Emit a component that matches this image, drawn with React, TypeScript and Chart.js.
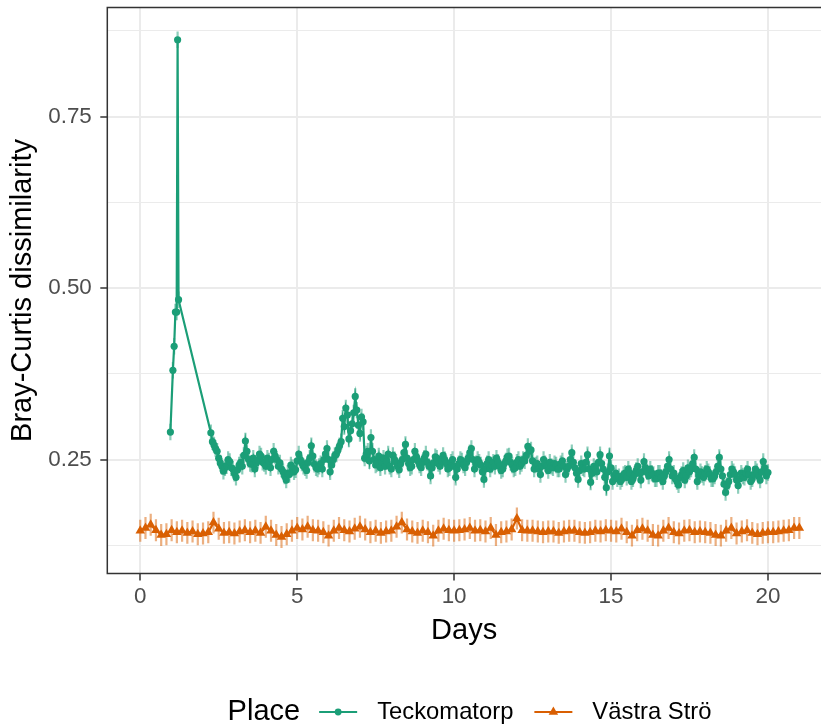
import React, { useEffect, useRef } from 'react';
import { Chart, registerables } from 'chart.js';

Chart.register(...registerables);

const FONT = "'Liberation Sans', Arial, Helvetica, sans-serif";

// ---- data ----
const seriesNames = ['Teckomatorp', 'Västra Strö'];
const seriesColors = ['#1B9E77', '#D95F02'];
const errorColors = ['rgba(27,158,119,0.5)', 'rgba(217,95,2,0.5)'];

const teckoEarlyDays = [0.96, 1.04, 1.08, 1.12, 1.16, 1.19, 1.22];
const teckoEarlyValues = [0.29, 0.38, 0.415, 0.465, 0.465, 0.862, 0.483];
const teckoStartDay = 2.25;
const teckoStepDays = 0.05;
const teckoValues = [
  0.289, 0.276, 0.271, 0.266, 0.262, 0.252, 0.245, 0.240, 0.233, 0.238, 0.241, 0.250, 0.247, 0.238, 0.236, 0.230, 0.224, 0.235, 0.242, 0.246,
  0.240, 0.256, 0.277, 0.262, 0.250, 0.244, 0.243, 0.252, 0.236, 0.245, 0.249, 0.258, 0.255, 0.246, 0.244, 0.240, 0.252, 0.248, 0.238, 0.250,
  0.262, 0.255, 0.250, 0.240, 0.245, 0.236, 0.232, 0.226, 0.220, 0.230, 0.228, 0.242, 0.238, 0.232, 0.235, 0.248, 0.258, 0.250, 0.245, 0.240,
  0.238, 0.234, 0.246, 0.252, 0.270, 0.255, 0.243, 0.238, 0.236, 0.240, 0.244, 0.236, 0.250, 0.258, 0.266, 0.250, 0.232, 0.242, 0.250, 0.256,
  0.258, 0.264, 0.270, 0.276, 0.310, 0.298, 0.325, 0.315, 0.280, 0.292, 0.302, 0.318, 0.342, 0.322, 0.300, 0.288, 0.312, 0.305, 0.252, 0.258,
  0.262, 0.248, 0.282, 0.262, 0.250, 0.242, 0.244, 0.255, 0.238, 0.246, 0.252, 0.240, 0.247, 0.258, 0.240, 0.236, 0.256, 0.250, 0.246, 0.240,
  0.235, 0.244, 0.250, 0.260, 0.272, 0.252, 0.244, 0.238, 0.240, 0.250, 0.262, 0.254, 0.248, 0.242, 0.238, 0.246, 0.252, 0.258, 0.246, 0.240,
  0.226, 0.238, 0.245, 0.254, 0.252, 0.244, 0.240, 0.248, 0.256, 0.250, 0.244, 0.236, 0.238, 0.246, 0.250, 0.240, 0.224, 0.236, 0.244, 0.250,
  0.248, 0.242, 0.238, 0.246, 0.252, 0.260, 0.266, 0.250, 0.236, 0.244, 0.250, 0.246, 0.242, 0.232, 0.221, 0.236, 0.244, 0.250, 0.236, 0.242,
  0.246, 0.240, 0.252, 0.246, 0.240, 0.234, 0.236, 0.244, 0.248, 0.254, 0.255, 0.246, 0.242, 0.236, 0.238, 0.246, 0.250, 0.240, 0.244, 0.250,
  0.248, 0.256, 0.269, 0.262, 0.264, 0.248, 0.236, 0.242, 0.244, 0.236, 0.228, 0.240, 0.250, 0.244, 0.240, 0.234, 0.246, 0.240, 0.238, 0.244,
  0.242, 0.236, 0.236, 0.244, 0.248, 0.240, 0.228, 0.236, 0.240, 0.250, 0.260, 0.246, 0.238, 0.230, 0.221, 0.234, 0.244, 0.238, 0.236, 0.246,
  0.257, 0.236, 0.217, 0.230, 0.240, 0.236, 0.232, 0.246, 0.257, 0.244, 0.236, 0.224, 0.209, 0.232, 0.255, 0.238, 0.218, 0.226, 0.230, 0.222,
  0.225, 0.218, 0.222, 0.228, 0.230, 0.224, 0.236, 0.230, 0.218, 0.222, 0.228, 0.234, 0.240, 0.230, 0.220, 0.232, 0.247, 0.238, 0.232, 0.226,
  0.236, 0.230, 0.228, 0.222, 0.222, 0.230, 0.230, 0.224, 0.218, 0.226, 0.232, 0.240, 0.250, 0.236, 0.226, 0.230, 0.222, 0.218, 0.213, 0.224,
  0.228, 0.234, 0.220, 0.226, 0.238, 0.232, 0.236, 0.244, 0.253, 0.236, 0.218, 0.226, 0.232, 0.228, 0.224, 0.230, 0.236, 0.232, 0.228, 0.222,
  0.222, 0.226, 0.232, 0.240, 0.253, 0.236, 0.226, 0.214, 0.202, 0.212, 0.218, 0.228, 0.236, 0.232, 0.228, 0.220, 0.212, 0.222, 0.230, 0.226,
  0.224, 0.230, 0.236, 0.228, 0.218, 0.222, 0.228, 0.236, 0.232, 0.226, 0.220, 0.232, 0.247, 0.238, 0.226, 0.231,
];
const teckoError = 0.012;

const vastraStartDay = 0;
const vastraStepDays = 1 / 6;
const vastraValues = [
  0.146, 0.150, 0.155, 0.147, 0.140, 0.141,
  0.147, 0.144, 0.146, 0.143, 0.145, 0.141,
  0.142, 0.144, 0.158, 0.149, 0.143, 0.144,
  0.142, 0.145, 0.147, 0.144, 0.146, 0.143,
  0.152, 0.146, 0.140, 0.137, 0.141, 0.146,
  0.150, 0.148, 0.152, 0.147, 0.146, 0.144,
  0.139, 0.146, 0.150, 0.147, 0.145, 0.149,
  0.152, 0.148, 0.144, 0.146, 0.143, 0.145,
  0.146, 0.152, 0.158, 0.148, 0.145, 0.143,
  0.146, 0.144, 0.139, 0.146, 0.149, 0.147,
  0.146, 0.147, 0.148, 0.150, 0.146, 0.147,
  0.145, 0.150, 0.140, 0.144, 0.145, 0.148,
  0.164, 0.147, 0.146, 0.146, 0.145, 0.144,
  0.145, 0.145, 0.143, 0.145, 0.146, 0.146,
  0.144, 0.143, 0.144, 0.146, 0.145, 0.147,
  0.146, 0.145, 0.149, 0.144, 0.139, 0.147,
  0.149, 0.146, 0.140, 0.139, 0.146, 0.150,
  0.144, 0.142, 0.146, 0.147, 0.144, 0.145,
  0.144, 0.143, 0.140, 0.139, 0.146, 0.150,
  0.142, 0.145, 0.147, 0.143, 0.141, 0.143,
  0.144, 0.144, 0.145, 0.146, 0.147, 0.150,
  0.150,
];
const vastraError = 0.016;

const xTicks = [0, 5, 10, 15, 20];
const yMajorTicks = [0.25, 0.5, 0.75];
const yMinorTicks = [0.125, 0.375, 0.625, 0.875];
const xLimits = [-1.05, 21.69];
const yLimits = [0.0838, 0.909];

const xTitle = 'Days';
const yTitle = 'Bray-Curtis dissimilarity';
const legendTitle = 'Place';

// ---- build ----
const teckoPoints = [
  ...teckoEarlyDays.map((d, i) => ({ x: d, y: teckoEarlyValues[i] })),
  ...teckoValues.map((v, i) => ({ x: teckoStartDay + i * teckoStepDays, y: v })),
];
const vastraPoints = vastraValues.map((v, i) => ({ x: vastraStartDay + i * vastraStepDays, y: v }));

const isMajorY = (v: number) => yMajorTicks.some((m) => Math.abs(m - v) < 1e-9);

const errorBarPlugin = {
  id: 'errorBars',
  beforeDatasetsDraw(chart: any) {
    const { ctx, chartArea, scales } = chart;
    ctx.save();
    ctx.beginPath();
    ctx.rect(chartArea.left, chartArea.top, chartArea.right - chartArea.left, chartArea.bottom - chartArea.top);
    ctx.clip();
    chart.data.datasets.forEach((ds: any) => {
      ctx.strokeStyle = ds.errorColor;
      ctx.lineWidth = 2.2;
      ds.data.forEach((p: any) => {
        const px = scales.x.getPixelForValue(p.x);
        ctx.beginPath();
        ctx.moveTo(px, scales.y.getPixelForValue(p.y - ds.errorMargin));
        ctx.lineTo(px, scales.y.getPixelForValue(p.y + ds.errorMargin));
        ctx.stroke();
      });
    });
    ctx.restore();
  },
};

const panelPlugin = {
  id: 'panelBorder',
  afterDatasetsDraw(chart: any) {
    const { ctx, chartArea } = chart;
    ctx.save();
    ctx.strokeStyle = '#333333';
    ctx.lineWidth = 1.5;
    ctx.beginPath();
    ctx.moveTo(chartArea.right + 2, chartArea.top);
    ctx.lineTo(chartArea.left, chartArea.top);
    ctx.lineTo(chartArea.left, chartArea.bottom);
    ctx.lineTo(chartArea.right + 2, chartArea.bottom);
    ctx.stroke();
    ctx.restore();
  },
};

const legendPlugin = {
  id: 'placeLegend',
  afterDraw(chart: any) {
    const ctx = chart.ctx;
    ctx.save();
    const y = 712;
    const centerX = 469.5;
    const titleFont = `29px ${FONT}`;
    const labelFont = `23.8px ${FONT}`;
    ctx.font = titleFont;
    const tw = ctx.measureText(legendTitle).width;
    ctx.font = labelFont;
    const lw = seriesNames.map((n) => ctx.measureText(n).width);
    const keyW = 38, gapTitle = 19, gapKey = 20, gapItem = 21;
    const total = tw + gapTitle + lw.reduce((a, w) => a + keyW + gapKey + w, 0) + gapItem * (seriesNames.length - 1);
    let x = centerX - total / 2;
    ctx.textBaseline = 'middle';
    ctx.textAlign = 'left';
    ctx.fillStyle = '#000';
    ctx.font = titleFont;
    ctx.fillText(legendTitle, x, y);
    x += tw + gapTitle;
    seriesNames.forEach((name, i) => {
      const c = seriesColors[i];
      ctx.strokeStyle = c;
      ctx.fillStyle = c;
      ctx.lineWidth = 2.2;
      ctx.beginPath();
      ctx.moveTo(x, y);
      ctx.lineTo(x + keyW, y);
      ctx.stroke();
      const mx = x + keyW / 2;
      ctx.beginPath();
      if (i === 0) {
        ctx.arc(mx, y, 3.4, 0, Math.PI * 2);
      } else {
        const r = 5.5;
        ctx.moveTo(mx, y - r);
        ctx.lineTo(mx + r * 0.866, y + r * 0.5);
        ctx.lineTo(mx - r * 0.866, y + r * 0.5);
        ctx.closePath();
      }
      ctx.fill();
      x += keyW + gapKey;
      ctx.fillStyle = '#000';
      ctx.font = labelFont;
      ctx.fillText(name, x, y);
      x += lw[i] + gapItem;
    });
    ctx.restore();
  },
};

export default function App() {
  const ref = useRef<HTMLCanvasElement | null>(null);
  useEffect(() => {
    document.body.style.margin = '0';
    const canvas = ref.current;
    if (!canvas) return;
    const chart = new Chart(canvas, {
      type: 'line',
      data: {
        datasets: [
          {
            label: seriesNames[0],
            data: teckoPoints,
            borderColor: seriesColors[0],
            backgroundColor: seriesColors[0],
            pointBackgroundColor: seriesColors[0],
            pointRadius: 3.6,
            pointBorderWidth: 0,
            pointStyle: 'circle',
            borderWidth: 2.2,
            tension: 0,
            errorMargin: teckoError,
            errorColor: errorColors[0],
          } as any,
          {
            label: seriesNames[1],
            data: vastraPoints,
            borderColor: seriesColors[1],
            backgroundColor: seriesColors[1],
            pointBackgroundColor: seriesColors[1],
            pointRadius: 5.5,
            pointBorderWidth: 0,
            pointStyle: 'triangle',
            borderWidth: 2.2,
            tension: 0,
            errorMargin: vastraError,
            errorColor: errorColors[1],
          } as any,
        ],
      },
      options: {
        animation: false,
        responsive: false,
        maintainAspectRatio: false,
        layout: { autoPadding: false, padding: { top: 7.5, left: 0, right: 0, bottom: 0 } },
        plugins: { legend: { display: false }, tooltip: { enabled: false } },
        scales: {
          x: {
            type: 'linear',
            min: xLimits[0],
            max: xLimits[1],
            afterBuildTicks: (s: any) => {
              s.ticks = xTicks.map((v) => ({ value: v }));
            },
            afterFit: (s: any) => {
              s.height = 153.5;
              s.paddingLeft = 0;
              s.paddingRight = 0;
            },
            grid: {
              color: '#EBEBEB',
              lineWidth: 2,
              drawTicks: true,
              tickLength: 7,
              tickColor: '#333333',
              tickWidth: 1.5,
            },
            border: { display: false },
            ticks: {
              color: '#4D4D4D',
              font: { size: 22.4, family: FONT },
              padding: 3,
              maxRotation: 0,
              autoSkip: false,
              callback: (v: any) => String(v),
            },
            title: {
              display: true,
              text: xTitle,
              color: '#000',
              font: { size: 29, family: FONT },
              padding: { top: 0, bottom: 79 },
            },
          },
          y: {
            type: 'linear',
            min: yLimits[0],
            max: yLimits[1],
            afterBuildTicks: (s: any) => {
              s.ticks = [...yMinorTicks, ...yMajorTicks].sort((a, b) => a - b).map((v) => ({ value: v }));
            },
            afterFit: (s: any) => {
              s.width = 107.3;
              s.paddingTop = 0;
              s.paddingBottom = 0;
            },
            grid: {
              color: '#EBEBEB',
              lineWidth: (c: any) => (isMajorY(c.tick?.value) ? 2 : 1.1),
              drawTicks: true,
              tickLength: 7,
              tickColor: (c: any) => (isMajorY(c.tick?.value) ? '#333333' : 'rgba(0,0,0,0)'),
              tickWidth: 1.5,
            },
            border: { display: false },
            ticks: {
              color: '#4D4D4D',
              font: { size: 22.4, family: FONT },
              padding: 8.5,
              autoSkip: false,
              callback: (v: any) => (isMajorY(Number(v)) ? Number(v).toFixed(2) : ''),
            },
            title: {
              display: true,
              text: yTitle,
              color: '#000',
              font: { size: 29, family: FONT },
              padding: { top: 5.5, bottom: 0 },
            },
          },
        },
      },
      plugins: [errorBarPlugin, panelPlugin, legendPlugin],
    });
    return () => chart.destroy();
  }, []);
  return (
    <div style={{ width: 821, height: 727, background: '#fff' }}>
      <canvas ref={ref} width={821} height={727} style={{ display: 'block' }} />
    </div>
  );
}
